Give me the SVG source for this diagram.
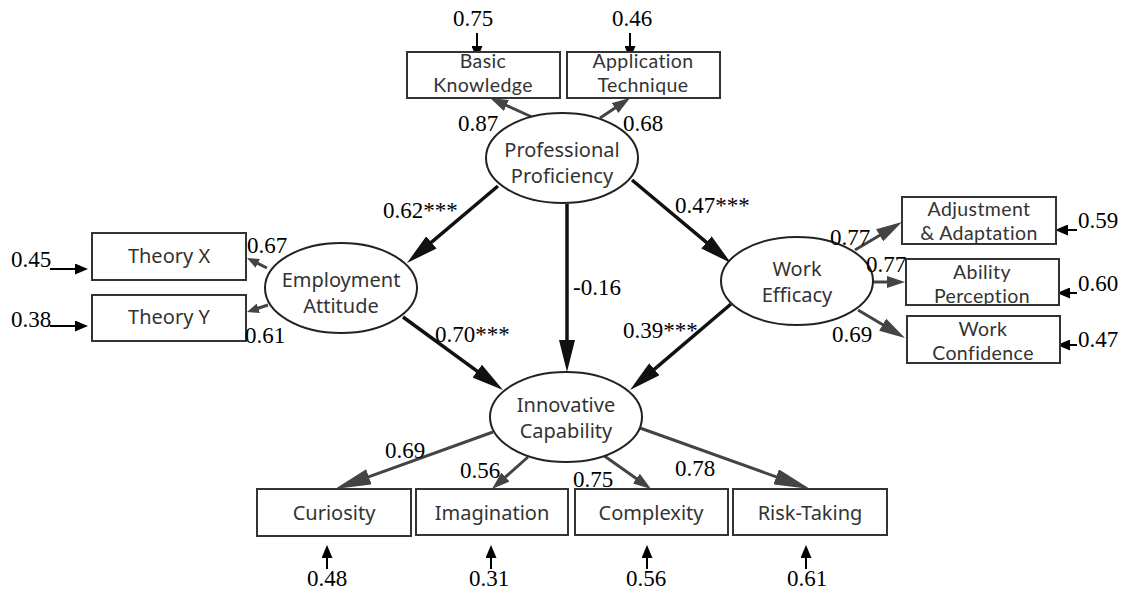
<svg xmlns="http://www.w3.org/2000/svg" width="1126" height="591" viewBox="0 0 1126 591">
<style>
.box{fill:#fff;stroke:#333;stroke-width:2}
.lat{fill:#fff;stroke:#222;stroke-width:2}
.lbl{font-family:"Noto Sans","Open Sans",sans-serif;font-size:20px;fill:#333;text-anchor:middle}
.lb2{font-family:Lato,"Noto Sans",sans-serif;font-size:19.5px;letter-spacing:0.4px;fill:#333;text-anchor:middle}
.num{font-family:"Liberation Serif","Times New Roman",serif;font-size:23px;fill:#000}
.main{stroke:#111;stroke-width:3.5;fill:none}
.ld{stroke:#444;stroke-width:3;fill:none}
.err{stroke:#000;stroke-width:2;fill:none}
</style>
<defs>
<marker id="mMain" markerUnits="userSpaceOnUse" markerWidth="32" markerHeight="16" refX="16" refY="8" orient="auto"><path d="M0,0 L32,8 L0,16 z" fill="#111"/></marker>
<marker id="mS" markerUnits="userSpaceOnUse" markerWidth="12" markerHeight="10" refX="6" refY="5" orient="auto"><path d="M0,0 L12,5 L0,10 z" fill="#444"/></marker>
<marker id="mM" markerUnits="userSpaceOnUse" markerWidth="18" markerHeight="12" refX="9" refY="6" orient="auto"><path d="M0,0 L18,6 L0,12 z" fill="#444"/></marker>
<marker id="mL" markerUnits="userSpaceOnUse" markerWidth="26" markerHeight="14" refX="13" refY="7" orient="auto"><path d="M0,0 L26,7 L0,14 z" fill="#444"/></marker>
<marker id="mXL" markerUnits="userSpaceOnUse" markerWidth="36" markerHeight="16" refX="18" refY="8" orient="auto"><path d="M0,0 L36,8 L0,16 z" fill="#444"/></marker>
<marker id="mE" markerUnits="userSpaceOnUse" markerWidth="13" markerHeight="11" refX="6" refY="5.5" orient="auto"><path d="M0,0 L13,5.5 L0,11 z" fill="#000"/></marker>
</defs>
<rect width="1126" height="591" fill="#fff"/>

<g id="connectors">
<line class="main" x1="498" y1="186" x2="419.2" y2="252.7" marker-end="url(#mMain)"/>
<line class="main" x1="567" y1="204" x2="567" y2="356" marker-end="url(#mMain)"/>
<line class="main" x1="632" y1="180" x2="718.7" y2="252.7" marker-end="url(#mMain)"/>
<line class="main" x1="403" y1="317" x2="490.1" y2="380.6" marker-end="url(#mMain)"/>
<line class="main" x1="731" y1="304" x2="642.2" y2="379.6" marker-end="url(#mMain)"/>

<line class="ld" x1="532" y1="117" x2="498.2" y2="101.7" marker-end="url(#mM)"/>
<line class="ld" x1="600" y1="118" x2="622.5" y2="103" marker-end="url(#mM)"/>
<line class="ld" x1="267" y1="268" x2="252.4" y2="260.7" marker-end="url(#mS)"/>
<line class="ld" x1="268" y1="305" x2="252.7" y2="310.1" marker-end="url(#mS)"/>
<line class="ld" x1="855" y1="250" x2="890.8" y2="228.7" marker-end="url(#mL)"/>
<line class="ld" x1="872" y1="282" x2="896" y2="282" marker-end="url(#mM)"/>
<line class="ld" x1="858" y1="310" x2="893.8" y2="331.3" marker-end="url(#mL)"/>
<line class="ld" x1="493" y1="432" x2="351.9" y2="482.9" marker-end="url(#mXL)"/>
<line class="ld" x1="528" y1="457" x2="498.7" y2="483" marker-end="url(#mM)"/>
<line class="ld" x1="603" y1="455" x2="643.7" y2="483.8" marker-end="url(#mM)"/>
<line class="ld" x1="640" y1="428" x2="793.1" y2="482.9" marker-end="url(#mXL)"/>

<line class="err" x1="477" y1="33" x2="477" y2="52" marker-end="url(#mE)"/>
<line class="err" x1="630" y1="33" x2="630" y2="52" marker-end="url(#mE)"/>
<line class="err" x1="50" y1="269" x2="81" y2="269" marker-end="url(#mE)"/>
<line class="err" x1="50" y1="326" x2="81" y2="326" marker-end="url(#mE)"/>
<line class="err" x1="1077" y1="230" x2="1062" y2="230" marker-end="url(#mE)"/>
<line class="err" x1="1077" y1="293" x2="1064" y2="293" marker-end="url(#mE)"/>
<line class="err" x1="1077" y1="345" x2="1064" y2="345" marker-end="url(#mE)"/>
<line class="err" x1="327" y1="569" x2="327" y2="552" marker-end="url(#mE)"/>
<line class="err" x1="491" y1="569" x2="491" y2="552" marker-end="url(#mE)"/>
<line class="err" x1="647" y1="569" x2="647" y2="552" marker-end="url(#mE)"/>
<line class="err" x1="806" y1="569" x2="806" y2="552" marker-end="url(#mE)"/>
</g>

<g id="pp"><ellipse class="lat" cx="562" cy="158" rx="76" ry="45"/><text class="lbl" x="562" y="157">Professional</text><text class="lbl" x="562" y="183">Proficiency</text></g>
<g id="ea"><ellipse class="lat" cx="341" cy="288" rx="76" ry="45"/><text class="lbl" x="341" y="287">Employment</text><text class="lbl" x="341" y="313">Attitude</text></g>
<g id="we"><ellipse class="lat" cx="797" cy="281" rx="76" ry="44"/><text class="lbl" x="797" y="276">Work</text><text class="lbl" x="797" y="302">Efficacy</text></g>
<g id="ic"><ellipse class="lat" cx="566" cy="417" rx="76" ry="45"/><text class="lbl" x="566" y="412">Innovative</text><text class="lbl" x="566" y="438">Capability</text></g>

<g id="bk"><rect class="box" x="407" y="52" width="153" height="46"/><text class="lb2" x="483" y="68">Basic</text><text class="lb2" x="483" y="91.5">Knowledge</text></g>
<g id="at"><rect class="box" x="567" y="52" width="153" height="46"/><text class="lb2" x="643" y="68">Application</text><text class="lb2" x="643" y="91.5">Technique</text></g>
<g id="tx"><rect class="box" x="92" y="233" width="154" height="47"/><text class="lbl" x="169" y="263">Theory X</text></g>
<g id="ty"><rect class="box" x="92" y="295" width="154" height="46"/><text class="lbl" x="169" y="324">Theory Y</text></g>
<g id="adj"><rect class="box" x="902" y="197" width="154" height="47"/><text class="lb2" x="979" y="216">Adjustment</text><text class="lb2" x="979" y="239.5">&amp; Adaptation</text></g>
<g id="ap"><rect class="box" x="906" y="259" width="153" height="46"/><text class="lb2" x="982" y="279">Ability</text><text class="lb2" x="982" y="302.5">Perception</text></g>
<g id="wc"><rect class="box" x="907" y="316" width="153" height="47"/><text class="lb2" x="983" y="336">Work</text><text class="lb2" x="983" y="359.5">Confidence</text></g>
<g id="cur"><rect class="box" x="257" y="489" width="154" height="47"/><text class="lbl" x="334" y="520">Curiosity</text></g>
<g id="ima"><rect class="box" x="416" y="489" width="152" height="46"/><text class="lbl" x="492" y="520">Imagination</text></g>
<g id="com"><rect class="box" x="575" y="489" width="153" height="46"/><text class="lbl" x="651" y="520">Complexity</text></g>
<g id="risk"><rect class="box" x="733" y="489" width="154" height="46"/><text class="lbl" x="810" y="520">Risk-Taking</text></g>

<g id="labels">
<text class="num" x="453" y="26">0.75</text>
<text class="num" x="612" y="26">0.46</text>
<text class="num" x="458" y="131">0.87</text>
<text class="num" x="623" y="131">0.68</text>
<text class="num" x="383" y="218">0.62***</text>
<text class="num" x="675" y="213">0.47***</text>
<text class="num" x="573" y="295">-0.16</text>
<text class="num" x="435" y="342">0.70***</text>
<text class="num" x="623" y="338">0.39***</text>
<text class="num" x="247" y="253">0.67</text>
<text class="num" x="245" y="343">0.61</text>
<text class="num" x="11" y="267">0.45</text>
<text class="num" x="11" y="327">0.38</text>
<text class="num" x="830" y="245">0.77</text>
<text class="num" x="866" y="272">0.77</text>
<text class="num" x="832" y="342">0.69</text>
<text class="num" x="1078" y="228">0.59</text>
<text class="num" x="1078" y="291">0.60</text>
<text class="num" x="1078" y="347">0.47</text>
<text class="num" x="385" y="458">0.69</text>
<text class="num" x="460" y="478">0.56</text>
<text class="num" x="573" y="487">0.75</text>
<text class="num" x="675" y="476">0.78</text>
<text class="num" x="307" y="586">0.48</text>
<text class="num" x="469" y="586">0.31</text>
<text class="num" x="626" y="586">0.56</text>
<text class="num" x="787" y="586">0.61</text>
</g>
</svg>
